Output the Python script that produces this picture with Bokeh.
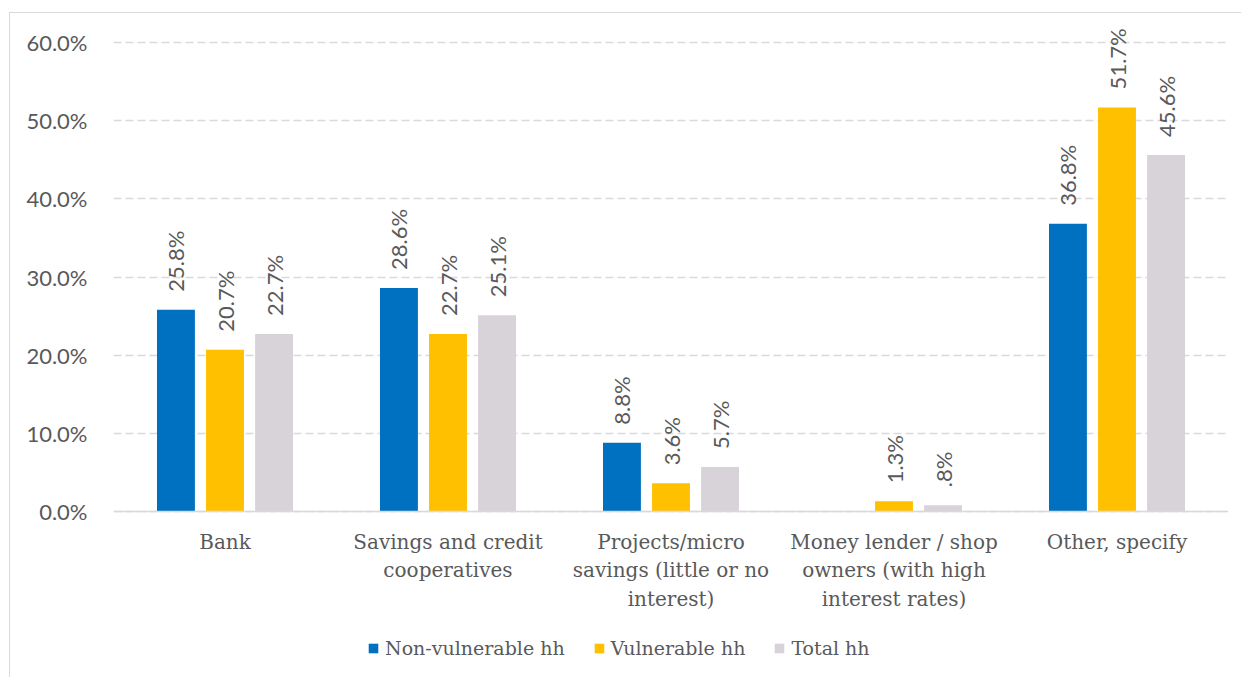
import math
from bokeh.plotting import figure
from bokeh.models import ColumnDataSource, FactorRange, Legend, LegendItem, PrintfTickFormatter, FixedTicker, Span
from bokeh.transform import dodge
from bokeh.core.properties import value
from bokeh.embed import file_html
from bokeh.resources import INLINE

categories = ["Bank", "Savings and credit cooperatives", "Projects/micro savings (little or no interest)",
              "Money lender / shop owners (with high interest rates)", "Other, specify"]
category_labels = ["Bank", "Savings and credit\ncooperatives", "Projects/micro\nsavings (little or no\ninterest)",
                   "Money lender / shop\nowners (with high\ninterest rates)", "Other, specify"]
series_names = ["Non-vulnerable hh", "Vulnerable hh", "Total hh"]
non_vulnerable = [25.8, 28.6, 8.8, float("nan"), 36.8]
vulnerable = [20.7, 22.7, 3.6, 1.3, 51.7]
total = [22.7, 25.1, 5.7, 0.8, 45.6]
y_ticks = [0, 10, 20, 30, 40, 50, 60]

series_values = [non_vulnerable, vulnerable, total]
colors = ["#0070C0", "#FFC000", "#D7D3D9"]
offsets = [-0.22, 0.0, 0.22]

TXT = "#595959"
SERIF = "DejaVu Serif"
SANS = "Lato"

# layout (page pixels)
W, H = 1232, 665
OFF_X, OFF_Y = 10, 13          # margin + border
FRAME_L, FRAME_R = 113, 1228
PIX_60, PIX_0 = 42, 511
ppu = (PIX_0 - PIX_60) / 60.0
frame_top = OFF_Y
frame_bottom = OFF_Y + H
y_hi = (PIX_0 - frame_top) / ppu
y_lo = -(frame_bottom - PIX_0) / ppu

p = figure(x_range=FactorRange(*categories), y_range=(y_lo, y_hi), width=W, height=H,
           output_backend="svg", toolbar_location=None, x_axis_location=None,
           min_border_left=FRAME_L - OFF_X, min_border_right=W - (FRAME_L - OFF_X) - (FRAME_R - FRAME_L),
           min_border_top=0, min_border_bottom=0)
p.styles = {"margin-left": "9px", "margin-top": "12px",
            "border-left": "1px solid #d9d9d9", "border-top": "1px solid #d9d9d9"}
p.outline_line_color = None
p.xgrid.grid_line_color = None
p.ygrid.grid_line_color = "#d9d9d9"
p.ygrid.grid_line_width = 1.5
p.ygrid.grid_line_dash = "8 4"

p.yaxis.ticker = FixedTicker(ticks=y_ticks)
p.yaxis.formatter = PrintfTickFormatter(format="%.1f%%")
p.yaxis.axis_line_color = None
p.yaxis.major_tick_line_color = None
p.yaxis.minor_tick_line_color = None
p.yaxis.major_label_standoff = 20
p.yaxis.major_label_text_font = SANS
p.yaxis.major_label_text_font_size = "22px"
p.yaxis.major_label_text_color = TXT

p.add_layout(Span(location=0, dimension="width", line_color="#d9d9d9", line_width=1.5))

cat_src = ColumnDataSource(dict(x=categories, y=[0] * len(categories), label=category_labels))
p.text(x="x", y="y", text="label", source=cat_src, text_align="center", text_baseline="top",
       y_offset=18, text_font=value(SERIF), text_font_size="20px", text_color=TXT,
       text_line_height=1.2)

items = []
for name, vals, col, off in zip(series_names, series_values, colors, offsets):
    xs, ys, labels = [], [], []
    for c, v in zip(categories, vals):
        if v is None or (isinstance(v, float) and math.isnan(v)):
            continue
        xs.append(c)
        ys.append(v)
        s = f"{v:.1f}%"
        if s.startswith("0."):
            s = s[1:]
        labels.append(s)
    src = ColumnDataSource(dict(x=xs, y=ys, label=labels))
    r = p.vbar(x=dodge("x", off, range=p.x_range), top="y", width=0.17, source=src,
               fill_color=col, line_color=None)
    p.text(x=dodge("x", off, range=p.x_range), y="y", text="label", source=src,
           angle=math.pi / 2, text_align="left", text_baseline="middle",
           y_offset=-18, text_font=value(SANS), text_font_size="22px", text_color=TXT)
    items.append(LegendItem(label=name, renderers=[r]))

legend = Legend(items=items, orientation="horizontal", location=(254, 19),
                label_text_font=SERIF, label_text_font_size="19px", label_text_color=TXT,
                glyph_width=12, glyph_height=12, label_standoff=6, spacing=28,
                padding=0, margin=0, border_line_color=None, background_fill_alpha=0)
p.add_layout(legend, "center")

open("out.html", "w").write(file_html(p, INLINE))
